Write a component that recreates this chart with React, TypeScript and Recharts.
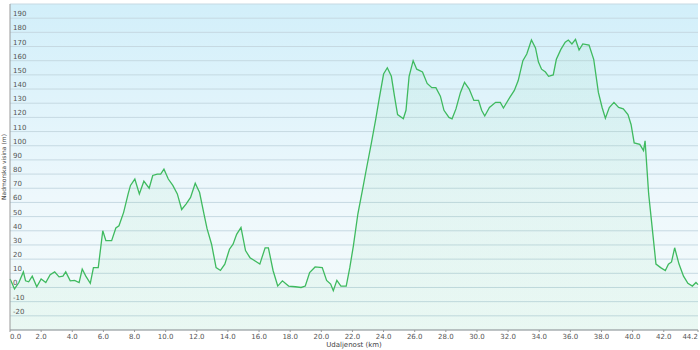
import React from 'react';
import { AreaChart, Area, XAxis, YAxis, CartesianGrid } from 'recharts';

// distance (km) and elevation (m)
const distanceKm = [
  0.0, 0.06, 0.29, 0.57, 0.86, 1.0, 1.2, 1.43, 1.72, 2.0, 2.3, 2.58, 2.87, 3.15, 3.4, 3.58, 3.87, 4.15,
  4.44, 4.64, 4.87, 5.16, 5.36, 5.67, 5.96, 6.16, 6.53, 6.8, 7.0, 7.3, 7.59, 7.74, 8.02, 8.31, 8.6, 8.94,
  9.17, 9.46, 9.68, 9.89, 10.17, 10.46, 10.75, 11.03, 11.32, 11.6, 11.9, 12.18, 12.46, 12.66, 12.95, 13.24,
  13.52, 13.8, 14.1, 14.33, 14.56, 14.84, 15.13, 15.42, 15.7, 16.05, 16.39, 16.6, 16.9, 17.2, 17.5, 17.9,
  18.34, 18.7, 18.97, 19.25, 19.6, 20.06, 20.34, 20.6, 20.77, 21.0, 21.26, 21.6, 21.83, 22.06, 22.35,
  22.63, 22.92, 23.2, 23.5, 23.7, 24.0, 24.24, 24.5, 24.7, 24.9, 25.27, 25.44, 25.64, 25.9, 26.13, 26.5,
  26.8, 27.1, 27.36, 27.65, 27.88, 28.2, 28.4, 28.65, 28.94, 29.2, 29.5, 29.8, 30.1, 30.3, 30.5, 30.8,
  31.2, 31.5, 31.7, 32.1, 32.4, 32.65, 32.95, 33.2, 33.5, 33.76, 33.95, 34.15, 34.4, 34.6, 34.9, 35.1,
  35.39, 35.67, 35.87, 36.1, 36.33, 36.56, 36.8, 37.2, 37.5, 37.8, 38.04, 38.25, 38.5, 38.8, 39.1, 39.4,
  39.7, 39.9, 40.1, 40.46, 40.7, 40.8, 41.03, 41.3, 41.5, 41.8, 42.1, 42.3, 42.5, 42.7, 42.98, 43.27,
  43.55, 43.84, 44.07, 44.2,
];

const elevationM = [
  6, 4.7, -1, 3.5, 11, 4.7, 4, 8, 0.5, 6, 3.5, 9, 11, 7.5, 8, 11, 4.7, 5,
  3.5, 13, 8, 3, 14, 14, 40, 33, 33, 42, 43.5, 53, 66, 72, 76.5, 66, 75, 70,
  79, 80, 80, 83.5, 76.5, 72, 66, 55, 59, 63.5, 73.5, 67, 52, 41.5, 30.5, 14,
  12, 16.5, 27, 30.5, 37.5, 42.4, 26, 21, 19, 16.5, 28, 28, 12, 1, 4.7, 1,
  0.5, 0, 1, 10.5, 14.5, 14, 5, 2.4, -2.3, 5, 1, 1, 14, 29.4, 52,
  68, 85, 101, 119, 132, 150.6, 155, 149, 135, 122, 119, 125, 149, 160, 154, 152,
  144, 141, 141, 135, 125, 120, 119, 126, 137.6, 144.7, 140, 132, 132, 125, 121, 127,
  130.6, 130.6, 126.6, 134, 139, 146, 160, 164.7, 174.6, 169, 159, 154, 152, 149, 150, 161,
  168, 173, 174.6, 171.8, 175, 167.5, 171.8, 171, 161, 137.6, 127, 119.5, 127, 130.6, 127, 126,
  122, 115, 102, 101, 96.5, 103.5, 66, 37.6, 16.5, 14, 12, 16.5, 18, 28, 16.5, 8,
  3, 1, 3.5, 2,
];

const xTicks = [0, 2, 4, 6, 8, 10, 12, 14, 16, 18, 20, 22, 24, 26, 28, 30, 32, 34, 36, 38, 40, 42, 44.2];
const yTicks = [-20, -10, 0, 10, 20, 30, 40, 50, 60, 70, 80, 90, 100, 110, 120, 130, 140, 150, 160, 170, 180, 190];

const data = distanceKm.map((km, i) => ({ km, ele: elevationM[i] }));

const font = 'Verdana, "DejaVu Sans", sans-serif';

const YTick = (props: any) => {
  const { y, payload } = props;
  return (
    <text x={13} y={y - 2} fontSize={7} fill="#555" fontFamily={font}>
      {payload.value}
    </text>
  );
};

const XTick = (props: any) => {
  const { x, y, payload, index } = props;
  let anchor: 'start' | 'middle' | 'end' = 'middle';
  if (index === 0) anchor = 'start';
  if (index === xTicks.length - 1) anchor = 'end';
  return (
    <text x={x} y={y + 5} fontSize={7} fill="#555" fontFamily={font} textAnchor={anchor}>
      {payload.value.toFixed(1)}
    </text>
  );
};

const YTitle = (props: any) => {
  const { viewBox } = props;
  const cy = viewBox.y + viewBox.height / 2;
  return (
    <text x={6} y={cy} fontSize={6} fill="#444" fontFamily={font} textAnchor="middle"
      transform={`rotate(-90 6 ${cy})`}>
      Nadmorska visina (m)
    </text>
  );
};

export default function App() {
  return (
    <div style={{ position: 'absolute', left: 0, top: 0, width: 700, height: 350 }}>
      <div
        style={{
          position: 'absolute',
          left: 10,
          top: 4,
          width: 688,
          height: 326,
          background: 'linear-gradient(to bottom, #d2effa 0%, #eef8fc 60%, #f4fbfb 100%)',
        }}
      />
      <div style={{ position: 'absolute', left: 0, top: 0 }}>
        <AreaChart width={700} height={350} data={data} margin={{ top: 4, right: 2, left: 0, bottom: 0 }}>
          <defs>
            <linearGradient id="fillArea" x1="0" y1="0" x2="0" y2="1">
              <stop offset="0%" stopColor="#3cc56a" stopOpacity={0.1} />
              <stop offset="100%" stopColor="#3cc56a" stopOpacity={0.1} />
            </linearGradient>
          </defs>
          <CartesianGrid vertical={false} stroke="#c6d9e2" />
          <XAxis
            dataKey="km"
            type="number"
            domain={[0, 44.2]}
            ticks={xTicks}
            interval={0}
            height={20}
            stroke="#999"
            tickSize={2}
            tick={<XTick />}
            label={{ value: 'Udaljenost  (km)', position: 'insideBottom', offset: 3, fontSize: 7, fill: '#444', fontFamily: font }}
          />
          <YAxis
            type="number"
            domain={[-30, 200]}
            ticks={yTicks}
            interval={0}
            width={10}
            stroke="#999"
            tickLine={false}
            tick={<YTick />}
            label={<YTitle />}
          />
          <Area
            type="linear"
            dataKey="ele"
            stroke="#3fba5f"
            strokeWidth={1.3}
            fill="url(#fillArea)"
            baseValue="dataMin"
            isAnimationActive={false}
            dot={false}
            activeDot={false}
          />
        </AreaChart>
      </div>
    </div>
  );
}
